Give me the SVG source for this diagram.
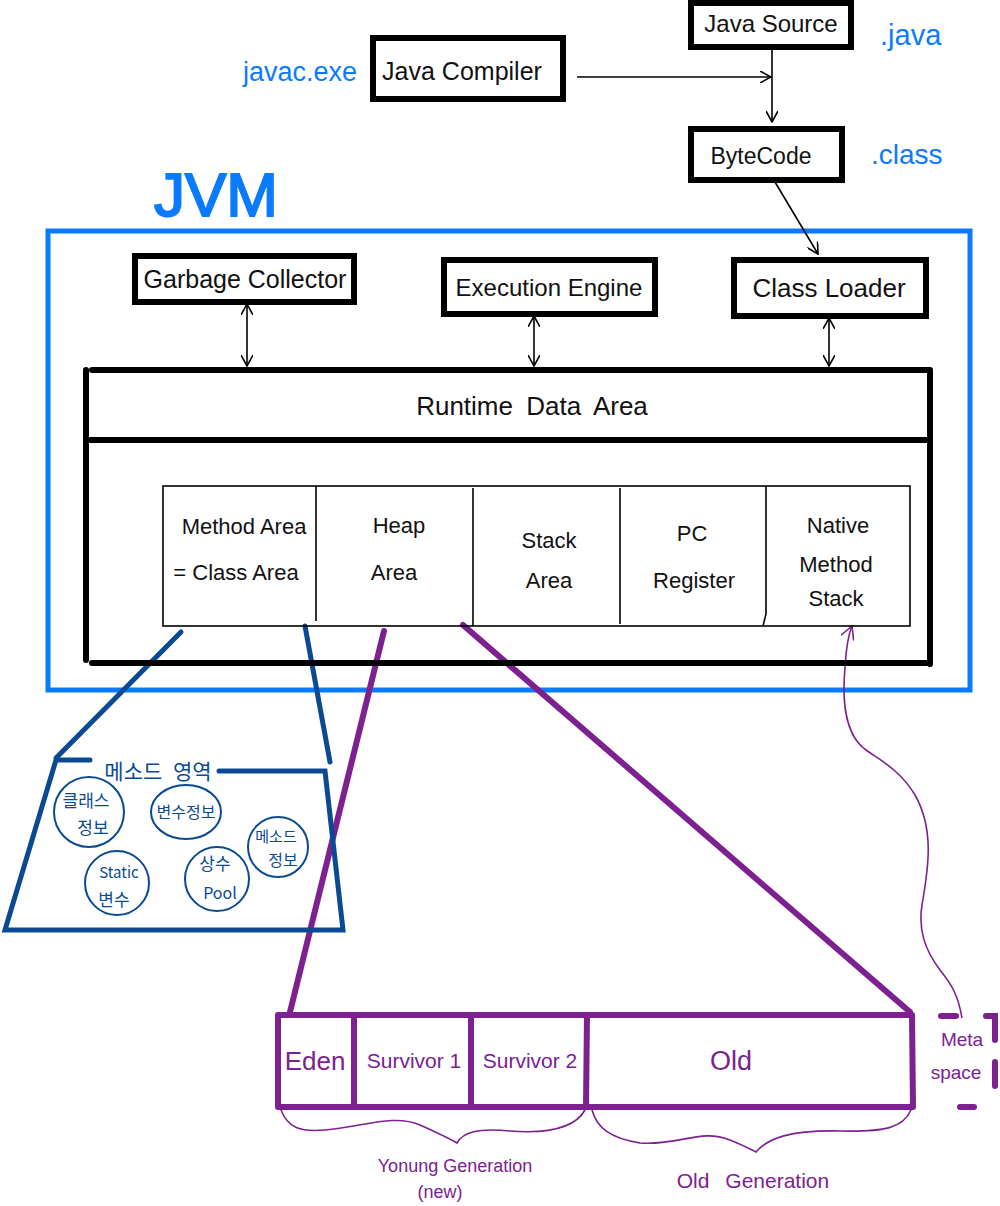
<svg xmlns="http://www.w3.org/2000/svg" width="1000" height="1206" viewBox="0 0 1000 1206">
<defs>
<style>
text{font-family:"Liberation Sans","Noto Sans CJK KR",sans-serif;fill:#111}
.box{fill:#fff;stroke:#000;stroke-width:6}
.thin{fill:none;stroke:#000;stroke-width:1.6}
.blk{fill:none;stroke:#000;stroke-width:6;stroke-linecap:round}
.arr{fill:none;stroke:#000;stroke-width:1.6}
.bl{fill:#0a7bff}
.navy{fill:none;stroke:#0b4a92;stroke-width:5;stroke-linecap:round}
.navyc{fill:none;stroke:#0b4a92;stroke-width:2}
.nt{fill:#0b4a92;font-family:"Noto Sans CJK KR","Liberation Sans",sans-serif}
.pur{fill:none;stroke:#7d2190;stroke-width:6;stroke-linecap:round}
.purt{fill:none;stroke:#7d2190;stroke-width:1.6}
.pt{fill:#7d2190}
.c{text-anchor:middle}
</style>
<marker id="ah" viewBox="0 0 12 12" refX="11" refY="6" markerWidth="12" markerHeight="12" markerUnits="userSpaceOnUse" orient="auto-start-reverse">
<path d="M0,0 L11,6 L0,12" fill="none" stroke="#000" stroke-width="1.6"/>
</marker>
<marker id="ahp" viewBox="0 0 14 14" refX="13" refY="7" markerWidth="14" markerHeight="14" markerUnits="userSpaceOnUse" orient="auto">
<path d="M0,0 L13,7 L0,14" fill="none" stroke="#7d2190" stroke-width="1.6"/>
</marker>
</defs>
<rect width="1000" height="1206" fill="#fff"/>

<!-- JVM container -->
<g id="jvm">
<text x="154" y="216" class="bl" font-size="62" stroke="#0a7bff" stroke-width="2">JVM</text>
<rect x="48" y="231" width="922" height="459" fill="none" stroke="#0a7bff" stroke-width="5"/>
</g>

<!-- connectors -->
<g id="connectors">
<line x1="577" y1="77" x2="771" y2="77" class="arr" marker-end="url(#ah)"/>
<line x1="772" y1="48" x2="772" y2="122" class="arr" marker-end="url(#ah)"/>
<line x1="775" y1="182" x2="818" y2="254" class="arr" marker-end="url(#ah)"/>
<line x1="247" y1="304" x2="247" y2="366" class="arr" marker-start="url(#ah)" marker-end="url(#ah)"/>
<line x1="534" y1="316" x2="534" y2="366" class="arr" marker-start="url(#ah)" marker-end="url(#ah)"/>
<line x1="829" y1="318" x2="829" y2="366" class="arr" marker-start="url(#ah)" marker-end="url(#ah)"/>
<!-- method area zoom lines -->
<line x1="181" y1="632" x2="56" y2="758" class="navy"/>
<line x1="305" y1="626" x2="330" y2="762" class="navy"/>
<!-- heap zoom lines -->
<line x1="384" y1="631" x2="290" y2="1012" class="pur" stroke-width="5"/>
<line x1="463" y1="625" x2="910" y2="1012" class="pur" stroke-width="5"/>
<!-- metaspace curve -->
<path d="M962,1018 C958,995 952,985 940,970 C925,950 918,930 922,905 C928,870 935,830 915,795 C900,770 880,760 866,750 C845,735 842,700 845,668 C846,650 848,636 852,626" class="purt" marker-end="url(#ahp)"/>
</g>

<!-- top nodes -->
<g id="java-source">
<rect x="691" y="3" width="160" height="44" class="box"/>
<text x="771" y="32" class="c" font-size="24">Java Source</text>
<text x="880" y="45" class="bl" font-size="29">.java</text>
</g>
<g id="java-compiler">
<rect x="373" y="38" width="190" height="61" class="box"/>
<text x="462" y="80" class="c" font-size="25">Java Compiler</text>
<text x="243" y="81" class="bl" font-size="27">javac.exe</text>
</g>
<g id="bytecode">
<rect x="691" y="129" width="151" height="51" class="box"/>
<text x="761" y="164" class="c" font-size="23">ByteCode</text>
<text x="871" y="164" class="bl" font-size="28">.class</text>
</g>

<!-- JVM components -->
<g id="garbage-collector">
<rect x="135" y="256" width="219" height="46" class="box"/>
<text x="245" y="288" class="c" font-size="25">Garbage Collector</text>
</g>
<g id="execution-engine">
<rect x="444" y="260" width="211" height="54" class="box"/>
<text x="549" y="296" class="c" font-size="24">Execution Engine</text>
</g>
<g id="class-loader">
<rect x="734" y="260" width="192" height="56" class="box"/>
<text x="829" y="297" class="c" font-size="26">Class Loader</text>
</g>

<g id="runtime-data-area">
<line x1="92" y1="370" x2="929" y2="370" class="blk"/>
<line x1="86" y1="370" x2="86" y2="660" class="blk"/>
<line x1="930" y1="370" x2="930" y2="664" class="blk"/>
<line x1="90" y1="440" x2="930" y2="440" class="blk"/>
<line x1="92" y1="663" x2="930" y2="663" class="blk"/>
<text x="532" y="415" class="c" font-size="26" word-spacing="6">Runtime Data Area</text>
</g>

<g id="memory-areas">
<rect x="163" y="486" width="747" height="140" class="thin"/>
<line x1="316" y1="486" x2="316" y2="621" class="thin"/>
<line x1="473" y1="488" x2="473" y2="626" class="thin"/>
<line x1="620" y1="488" x2="620" y2="624" class="thin"/>
<path d="M766,486 L766,614 L763,626" class="thin"/>
</g>
<g id="method-area">
<text x="244" y="534" class="c" font-size="22">Method Area</text>
<text x="236" y="580" class="c" font-size="22">= Class Area</text>
</g>
<g id="heap-area">
<text x="399" y="533" class="c" font-size="22">Heap</text>
<text x="394" y="580" class="c" font-size="22">Area</text>
</g>
<g id="stack-area">
<text x="549" y="548" class="c" font-size="22">Stack</text>
<text x="549" y="588" class="c" font-size="22">Area</text>
</g>
<g id="pc-register">
<text x="692" y="541" class="c" font-size="22">PC</text>
<text x="694" y="588" class="c" font-size="22">Register</text>
</g>
<g id="native-method-stack">
<text x="838" y="533" class="c" font-size="22">Native</text>
<text x="836" y="572" class="c" font-size="22">Method</text>
<text x="836" y="606" class="c" font-size="22">Stack</text>
</g>

<!-- method area detail -->
<g id="method-area-detail">
<path d="M90,760 L56,760 L5,930 L343,930 L325,771 L219,771" class="navy"/>
<text x="158" y="779" class="nt c" font-size="21" word-spacing="6">메소드 영역</text>
</g>
<g id="class-info">
<circle cx="89" cy="812" r="35" class="navyc"/>
<text x="86" y="807" class="nt c" font-size="17">클래스</text>
<text x="93" y="834" class="nt c" font-size="17">정보</text>
</g>
<g id="var-info">
<ellipse cx="186" cy="812" rx="35" ry="27" class="navyc"/>
<text x="186" y="818" class="nt c" font-size="16">변수정보</text>
</g>
<g id="method-info">
<circle cx="278" cy="847" r="30" class="navyc"/>
<text x="276" y="842" class="nt c" font-size="15">메소드</text>
<text x="283" y="866" class="nt c" font-size="16">정보</text>
</g>
<g id="static-var">
<circle cx="117" cy="883" r="32" class="navyc"/>
<text x="119" y="878" class="nt c" font-size="15">Static</text>
<text x="114" y="906" class="nt c" font-size="17">변수</text>
</g>
<g id="constant-pool">
<circle cx="217" cy="879" r="32" class="navyc"/>
<text x="215" y="870" class="nt c" font-size="17">상수</text>
<text x="220" y="899" class="nt c" font-size="16">Pool</text>
</g>

<!-- heap detail -->
<g id="heap-detail">
<path d="M278,1015 L912,1015 M278,1107 L912,1107 M278,1015 L278,1107 M912,1015 L913,1107" class="pur"/>
</g>
<g id="eden">
<line x1="354" y1="1015" x2="354" y2="1107" class="pur"/>
<text x="315" y="1070" class="pt c" font-size="26">Eden</text>
</g>
<g id="survivor1">
<line x1="471" y1="1015" x2="471" y2="1107" class="pur"/>
<text x="414" y="1068" class="pt c" font-size="21">Survivor 1</text>
</g>
<g id="survivor2">
<line x1="587" y1="1015" x2="586" y2="1107" class="pur"/>
<text x="530" y="1068" class="pt c" font-size="21">Survivor 2</text>
</g>
<g id="old">
<text x="731" y="1070" class="pt c" font-size="27">Old</text>
</g>
<g id="metaspace">
<path d="M941,1016 L956,1016 M986,1016 L995,1016 L995,1040 M995,1062 L995,1086 M960,1107 L974,1107" class="pur" stroke-width="5"/>
<text x="962" y="1046" class="pt c" font-size="19">Meta</text>
<text x="956" y="1079" class="pt c" font-size="19">space</text>
</g>
<g id="young-generation">
<path d="M281,1110 C288,1128 300,1132 325,1130 C365,1126 395,1114 420,1125 C440,1134 452,1140 457,1143 C463,1132 478,1128 510,1131 C550,1134 575,1128 585,1110" class="purt"/>
<text x="455" y="1172" class="pt c" font-size="18">Yonung Generation</text>
<text x="440" y="1198" class="pt c" font-size="18">(new)</text>
</g>
<g id="old-generation">
<path d="M592,1110 C597,1128 610,1138 640,1143 C680,1146 700,1128 730,1140 C745,1146 752,1150 756,1152 C768,1138 790,1130 840,1131 C885,1132 903,1128 911,1110" class="purt"/>
<text x="753" y="1188" class="pt c" font-size="21" word-spacing="10">Old Generation</text>
</g>
</svg>
